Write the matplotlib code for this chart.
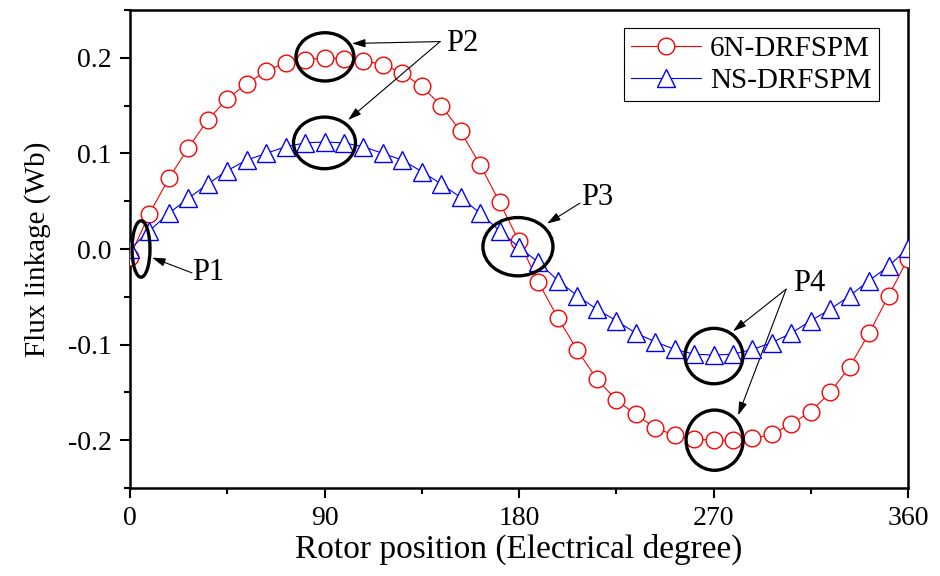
import numpy as np
import matplotlib.pyplot as plt
from matplotlib.patches import Ellipse
from matplotlib.ticker import MultipleLocator

plt.rcParams['font.family'] = ['Liberation Serif', 'DejaVu Serif']
plt.rcParams['mathtext.fontset'] = 'stix'

# rotor position, every 9 electrical degrees
angle = np.arange(0, 361, 9)

flux_6n = [-0.008, 0.037, 0.074, 0.106, 0.135, 0.157, 0.173, 0.186, 0.195, 0.198,
           0.200, 0.199, 0.197, 0.193, 0.184, 0.170, 0.150, 0.123, 0.088, 0.049,
           0.008, -0.035, -0.072, -0.106, -0.136, -0.158, -0.173, -0.187, -0.195, -0.199,
           -0.200, -0.200, -0.198, -0.194, -0.183, -0.170, -0.150, -0.123, -0.088, -0.049,
           -0.010]
flux_ns = [0.000, 0.019, 0.0375, 0.053, 0.068, 0.082, 0.093, 0.100, 0.107, 0.111,
           0.112, 0.111, 0.107, 0.100, 0.093, 0.081, 0.068, 0.054, 0.0375, 0.019,
           0.002, -0.014, -0.033, -0.049, -0.063, -0.075, -0.088, -0.097, -0.105, -0.110,
           -0.111, -0.110, -0.105, -0.098, -0.088, -0.075, -0.063, -0.049, -0.033, -0.018,
           0.001]

names = ['6N-DRFSPM', 'NS-DRFSPM']

fig = plt.figure(figsize=(9.4, 5.76), dpi=100)
ax = fig.add_axes([0.1383, 0.1528, 0.966 - 0.1383, 0.9826 - 0.1528])

ax.plot(angle, flux_6n, color='#ff0000', lw=0.8, marker='o', ms=12,
        mfc='white', mec='#ff0000', mew=1.0, label=names[0], zorder=3)
ax.plot(angle, flux_ns, color='#0000ff', lw=0.8, marker='^', ms=13,
        mfc='white', mec='#0000ff', mew=1.0, label=names[1], zorder=4)

ax.set_xlim(0, 360)
ax.set_ylim(-0.25, 0.25)
ax.xaxis.set_major_locator(MultipleLocator(90))
ax.xaxis.set_minor_locator(MultipleLocator(45))
ax.yaxis.set_major_locator(MultipleLocator(0.1))
ax.yaxis.set_minor_locator(MultipleLocator(0.05))
ax.set_yticks([-0.2, -0.1, 0.0, 0.1, 0.2])
ax.set_yticklabels(['-0.2', '-0.1', '0.0', '0.1', '0.2'])

ax.tick_params(which='major', direction='out', length=7, width=1.5, labelsize=20, pad=6)
ax.tick_params(which='minor', direction='out', length=4, width=1.5)
for s in ax.spines.values():
    s.set_linewidth(1.8)

ax.set_xlabel('Rotor position (Electrical degree)', fontsize=24, labelpad=2)
ax.set_ylabel('Flux linkage (Wb)', fontsize=21, labelpad=12)

leg = ax.legend(loc='upper right', bbox_to_anchor=(0.9627, 0.9623), borderaxespad=0,
                fontsize=21, fancybox=False, framealpha=1, edgecolor='black',
                handlelength=2.4, handletextpad=0.3, borderpad=0.25, labelspacing=0.2)
leg.get_frame().set_linewidth(0.8)

# highlighted regions
ellipses = [(5.1, 0.0, 8.3, 0.059), (90.2, 0.201, 26.8, 0.0505),
            (90.0, 0.111, 28.7, 0.054), (179.5, 0.0024, 32.4, 0.061),
            (270.2, -0.112, 26.8, 0.058), (270.5, -0.200, 26.4, 0.063)]
for cx, cy, w, h in ellipses:
    ax.add_patch(Ellipse((cx, cy), w, h, fill=False, ec='black', lw=2.4,
                         zorder=5, clip_on=False))

arrow = dict(arrowstyle='-|>,head_length=0.8,head_width=0.25', color='black',
             lw=0.8, shrinkA=0, shrinkB=0)
ax.text(36.1, -0.025, 'P1', fontsize=22, ha='center', va='center')
ax.annotate('', xy=(10.2, -0.009), xytext=(28.7, -0.025), arrowprops=arrow)

ax.text(153.6, 0.215, 'P2', fontsize=22, ha='center', va='center')
ax.annotate('', xy=(102.7, 0.215), xytext=(143.5, 0.217), arrowprops=arrow)
ax.annotate('', xy=(100.9, 0.135), xytext=(143.5, 0.217), arrowprops=arrow)

ax.text(216.0, 0.054, 'P3', fontsize=22, ha='center', va='center')
ax.annotate('', xy=(193.0, 0.0266), xytext=(208.2, 0.048), arrowprops=arrow)

ax.text(314.2, -0.0366, 'P4', fontsize=22, ha='center', va='center')
ax.annotate('', xy=(279.0, -0.086), xytext=(303.6, -0.042), arrowprops=arrow)
ax.annotate('', xy=(281.4, -0.174), xytext=(303.6, -0.042), arrowprops=arrow)

fig.savefig('out.png', dpi=100)
